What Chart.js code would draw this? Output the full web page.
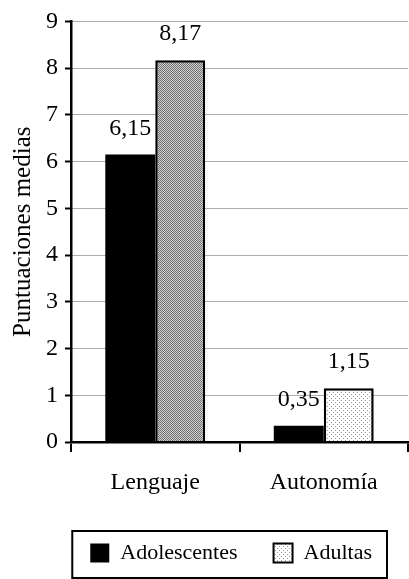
<!DOCTYPE html>
<html>
<head>
<meta charset="utf-8">
<script src="https://cdn.jsdelivr.net/npm/chart.js@4.4.1/dist/chart.umd.min.js"></script>
<style>
  html, body { margin: 0; padding: 0; background: #fff; }
  #wrap { width: 409px; height: 579px; }
</style>
</head>
<body>
<div id="wrap"><canvas id="chart"></canvas></div>
<script>
const categories = ["Lenguaje", "Autonomía"];
const seriesNames = ["Adolescentes", "Adultas"];
const adolescentes = [6.15, 0.35];
const adultas = [8.17, 1.15];
const yTicks = [0, 1, 2, 3, 4, 5, 6, 7, 8, 9];
const yTitle = "Puntuaciones medias";

// small dithered fill, like the scanned gray texture
function dither(dark, light, cells) {
    const c = document.createElement('canvas');
    c.width = 4;
    c.height = 4;
    const g = c.getContext('2d');
    g.fillStyle = light;
    g.fillRect(0, 0, 4, 4);
    g.fillStyle = dark;
    cells.forEach(([x, y]) => g.fillRect(x, y, 1, 1));
    return g.createPattern(c, 'repeat');
}

const patDark = dither('#6e6e6e', '#d4d4d4',
    [[0, 0], [2, 0], [1, 1], [3, 1], [0, 2], [2, 2], [1, 3], [3, 3]]);
const patLight = dither('#9a9a9a', '#fff', [[1, 0], [3, 2]]);

const valueLabels = {
    id: 'valueLabels',
    afterDatasetsDraw(chart) {
        const ctx = chart.ctx;
        ctx.save();
        ctx.font = '24px "Liberation Serif"';
        ctx.fillStyle = '#000';
        ctx.textAlign = 'center';
        ctx.textBaseline = 'alphabetic';
        chart.data.datasets.forEach((ds, i) => {
            chart.getDatasetMeta(i).data.forEach((bar, j) => {
                ctx.fillText(ds.data[j].toFixed(2).replace('.', ','), bar.x, bar.y - 20);
            });
        });
        ctx.restore();
    }
};

const legendFrame = {
    id: 'legendFrame',
    afterDraw(chart) {
        const boxes = chart.legend.legendHitBoxes;
        if (!boxes || !boxes.length) return;
        const first = boxes[0];
        const last = boxes[boxes.length - 1];
        const ctx = chart.ctx;
        ctx.save();
        ctx.strokeStyle = '#000';
        ctx.lineWidth = 2;
        const left = first.left - 18;
        const right = last.left + last.width + 15;
        const top = first.top - 11;
        const bottom = first.top + first.height + 14;
        ctx.strokeRect(left, top, right - left, bottom - top);
        ctx.restore();
    }
};

Chart.defaults.font.family = '"Liberation Serif", "Times New Roman", serif';
Chart.defaults.color = '#000';

new Chart(document.getElementById('chart'), {
    type: 'bar',
    data: {
        labels: categories,
        datasets: [
            {
                label: seriesNames[0],
                data: adolescentes,
                backgroundColor: '#000',
                borderWidth: 0
            },
            {
                label: seriesNames[1],
                data: adultas,
                backgroundColor: [patDark, patLight],
                borderColor: '#000',
                borderWidth: 2.5
            }
        ]
    },
    options: {
        responsive: true,
        maintainAspectRatio: false,
        animation: false,
        devicePixelRatio: 1,
        categoryPercentage: 0.593,
        barPercentage: 1,
        layout: { padding: { top: 0, right: 1, bottom: 5, left: 0 } },
        plugins: {
            tooltip: { enabled: false },
            legend: {
                position: 'bottom',
                align: 'end',
                labels: {
                    boxWidth: 19,
                    boxHeight: 19,
                    padding: 36,
                    color: '#000',
                    font: { size: 22 },
                    generateLabels(chart) {
                        const items = Chart.defaults.plugins.legend.labels.generateLabels(chart);
                        items[0].fillStyle = '#000';
                        items[0].strokeStyle = '#000';
                        items[0].lineWidth = 0;
                        items[1].fillStyle = patLight;
                        items[1].strokeStyle = '#000';
                        items[1].lineWidth = 2;
                        return items;
                    }
                }
            }
        },
        scales: {
            x: {
                offset: true,
                grid: {
                    offset: true,
                    drawOnChartArea: false,
                    color: '#000',
                    lineWidth: 2,
                    tickLength: 10
                },
                border: { color: '#000', width: 2.5, z: 1 },
                ticks: { color: '#000', font: { size: 24 }, padding: 16 },
                afterFit: scale => { scale.height = 64; }
            },
            y: {
                min: yTicks[0],
                max: yTicks[yTicks.length - 1],
                ticks: { stepSize: 1, color: '#000', font: { size: 24 }, padding: 7 },
                grid: {
                    color: '#5a5a5a',
                    lineWidth: 1,
                    tickLength: 6,
                    tickColor: '#000',
                    tickWidth: 2
                },
                border: { color: '#000', width: 2.5, dash: [1, 1] },
                title: {
                    display: true,
                    text: yTitle,
                    color: '#000',
                    font: { size: 25 },
                    padding: { top: 8, bottom: 0 }
                },
                afterFit: scale => { scale.width = 71; }
            }
        }
    },
    plugins: [valueLabels, legendFrame]
});
</script>
</body>
</html>
